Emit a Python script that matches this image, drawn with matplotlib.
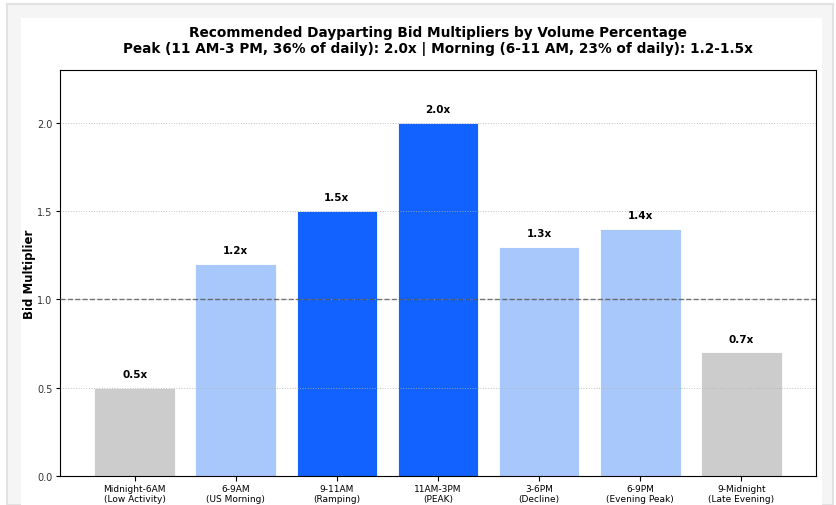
import matplotlib
matplotlib.use("Agg")
import matplotlib.pyplot as plt
from matplotlib.patches import Rectangle

categories = ["Midnight-6AM\n(Low Activity)", "6-9AM\n(US Morning)", "9-11AM\n(Ramping)",
              "11AM-3PM\n(PEAK)", "3-6PM\n(Decline)", "6-9PM\n(Evening Peak)",
              "9-Midnight\n(Late Evening)"]
multipliers = [0.5, 1.2, 1.5, 2.0, 1.3, 1.4, 0.7]
value_labels = ["0.5x", "1.2x", "1.5x", "2.0x", "1.3x", "1.4x", "0.7x"]
tiers = ["low", "mid", "high", "high", "mid", "mid", "low"]
tier_colors = {"low": "#cccccc", "mid": "#a8c8fc", "high": "#1262ff"}

fig = plt.figure(figsize=(8.36, 5.06), dpi=100, facecolor="#f5f5f5")
W, H = 836, 506
# screenshot frame
fig.patches.append(Rectangle((0, 0), 1, 1, transform=fig.transFigure, facecolor="white", edgecolor="none", zorder=-3))
fig.patches.append(Rectangle((7/W, 0), (833-7)/W, (506-5)/H, transform=fig.transFigure,
                             facecolor="#f5f5f5", edgecolor="#e2e2e2", linewidth=1.5, zorder=-2))
fig.patches.append(Rectangle((21/W, 0), (822-21)/W, (506-19)/H, transform=fig.transFigure,
                             facecolor="white", edgecolor="none", zorder=-1))

ax = fig.add_axes([60/W, 1-477/H, (816-60)/W, (477-71)/H])
x = list(range(len(categories)))
bars = ax.bar(x, multipliers, width=0.8, color=[tier_colors[t] for t in tiers],
              edgecolor="white", linewidth=0.6, zorder=2)
for xi, v, lab in zip(x, multipliers, value_labels):
    ax.text(xi, v + 0.05, lab, ha="center", va="bottom", fontsize=7.5, fontweight="bold")

ax.axhline(1.0, color="#555555", linestyle="--", linewidth=1.0, alpha=0.8, zorder=3)
ax.set_ylim(0, 2.3)
ax.set_yticks([0.0, 0.5, 1.0, 1.5, 2.0])
ax.yaxis.grid(True, linestyle=":", color="#b0b0b0", linewidth=0.7, alpha=0.8, zorder=3)
ax.set_axisbelow(False)
ax.set_xticks(x)
ax.set_xticklabels(categories, fontsize=6.5, linespacing=1.05)
ax.tick_params(axis="x", pad=2.5)
ax.tick_params(axis="y", labelsize=7, labelcolor="#333333", pad=2.5, length=3)
ax.set_ylabel("Bid Multiplier", fontsize=8.5, fontweight="bold", labelpad=1)
ax.set_title("Recommended Dayparting Bid Multipliers by Volume Percentage\n"
             "Peak (11 AM-3 PM, 36% of daily): 2.0x | Morning (6-11 AM, 23% of daily): 1.2-1.5x",
             fontsize=9.8, fontweight="bold", pad=13)

fig.savefig("out.png", dpi=100, facecolor=fig.get_facecolor())
